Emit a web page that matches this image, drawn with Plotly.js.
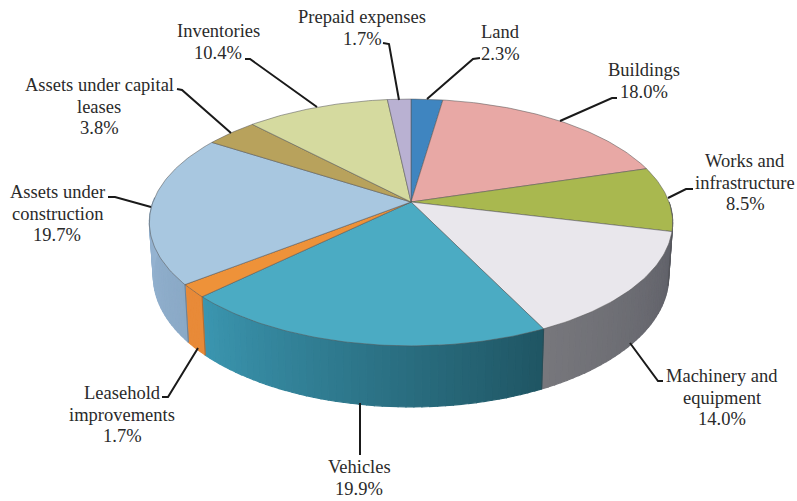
<!DOCTYPE html>
<html><head><meta charset="utf-8">
<script src="https://cdn.plot.ly/plotly-3.0.1.min.js"></script>
<style>html,body{margin:0;padding:0;background:#fff}#c{width:797px;height:501px}</style>
</head><body><div id="c"></div>
<script>
const categories = ["Land","Buildings","Works and|infrastructure","Machinery and|equipment","Vehicles","Leasehold|improvements","Assets under|construction","Assets under capital|leases","Inventories","Prepaid expenses"];
const shares = [2.3,18.0,8.5,14.0,19.9,1.7,19.7,3.8,10.4,1.7];
const topColors = ["#3f85c0","#e8a8a5","#a9b84f","#e9e7ec","#4babc3","#ee9239","#a8c7e0","#b8a25c","#d5da9f","#b9b1d2"];
const sideStart = ["#2f6a9c","#b98684","#5c5d65","#5f6068","#1f5563","#e88a38","#8aa9c6","#8f7d45","#a5a97a","#8f89a5"];
const sideEnd   = ["#2f6a9c","#b98684","#5f6068","#77777c","#3b96b0","#e88a38","#96b4d2","#8f7d45","#a5a97a","#8f89a5"];

/* label placement (page pixels), separate from the data */
const labelX = [500,644,745,722,359,122,57,99,218,362];
const labelY = [32,70,161,376,467,393,192,85,31,17];
const lineStep = 21.5;
const leaders = [
 "M480 58L473 59L427 99","M617 98L612 98L560 121","M693 189L686 189L668 198",
 "M663 381L658 381L630 343","M360 403L360 455","M162 397L168 397L198 348",
 "M108 197L115 197L151 207","M177 89L182 90L231 133","M245 59L250 59L317 107","M383 43L389 44L399 100"
];

/* perspective projection of a tilted disc */
const CX=411, CY=202, A=258, B=120, P=0.166;
function rim(deg){
  const t=deg*Math.PI/180, u=Math.sin(t), v=-Math.cos(t), s=1/(1-P*v);
  return {x:CX+A*u*s, y:CY+B*v*s, v};
}
function lower(deg){
  const p=rim(deg);
  return {x:CX+(p.x-CX)*0.985, y:p.y+52+9*p.v};
}
function hex(c){return [1,3,5].map(i=>parseInt(c.substr(i,2),16));}
function mix(a,b,f){const p=hex(a),q=hex(b);return "rgb("+p.map((v,i)=>Math.round(v+(q[i]-v)*f)).join(",")+")";}

const traces=[];
let acc=0;
const ranges=shares.map(s=>{const r=[acc*3.6,(acc+s)*3.6];acc+=s;return r;});

/* outer wall, only the visible front part */
ranges.forEach((r,i)=>{
  const a0=Math.max(r[0],90), a1=Math.min(r[1],272);
  if(a1<=a0) return;
  const n=Math.max(1,Math.ceil((a1-a0)/1.5)), step=(a1-a0)/n;
  for(let k=0;k<n;k++){
    const a=a0+k*step, b=a+step, p=rim(a), q=rim(b), r2=lower(b), r1=lower(a);
    const col=mix(sideStart[i],sideEnd[i],(k+0.5)/n);
    traces.push({type:"scatter",mode:"lines",x:[p.x,q.x,r2.x,r1.x,p.x],y:[p.y,q.y,r2.y,r1.y,p.y],
      fill:"toself",fillcolor:col,line:{color:col,width:1.2},hoverinfo:"skip",showlegend:false});
  }
  /* divider on the wall */
  if(i!==2) [a0,a1].forEach(a=>{const p=rim(a),q=lower(a);
    traces.push({type:"scatter",mode:"lines",x:[p.x,q.x],y:[p.y,q.y],line:{color:"rgba(60,60,60,0.45)",width:0.8},hoverinfo:"skip",showlegend:false});});
});

/* top face */
ranges.forEach((r,i)=>{
  const xs=[CX], ys=[CY], n=Math.max(2,Math.ceil(r[1]-r[0]));
  for(let k=0;k<=n;k++){const p=rim(r[0]+(r[1]-r[0])*k/n);xs.push(p.x);ys.push(p.y);}
  xs.push(CX);ys.push(CY);
  traces.push({type:"scatter",mode:"lines",name:categories[i].replace("|"," "),x:xs,y:ys,fill:"toself",
    fillcolor:topColors[i],line:{color:"rgba(85,85,85,0.6)",width:0.9},
    text:xs.map(()=>shares[i].toFixed(1)+"%"),hoverinfo:"name+text",showlegend:false});
});

const annotations=[];
categories.forEach((c,i)=>{
  c.split("|").concat(shares[i].toFixed(1)+"%").forEach((t,k)=>{
    annotations.push({xref:"x",yref:"y",x:labelX[i],y:labelY[i]+k*lineStep,xanchor:"center",yanchor:"middle",
      showarrow:false,text:t,font:{family:"'Liberation Serif',serif",size:18.5,color:"#2a2a2a"}});
  });
});
const shapes=leaders.map(p=>({type:"path",xref:"x",yref:"y",path:p,line:{color:"#1a1a1a",width:2}}));

Plotly.newPlot("c",traces,{
  width:797,height:501,margin:{l:0,r:0,t:0,b:0},paper_bgcolor:"#fff",plot_bgcolor:"#fff",showlegend:false,
  xaxis:{range:[0,797],visible:false,fixedrange:true},
  yaxis:{range:[501,0],visible:false,fixedrange:true},
  annotations,shapes
},{displayModeBar:false,staticPlot:true});
</script></body></html>
